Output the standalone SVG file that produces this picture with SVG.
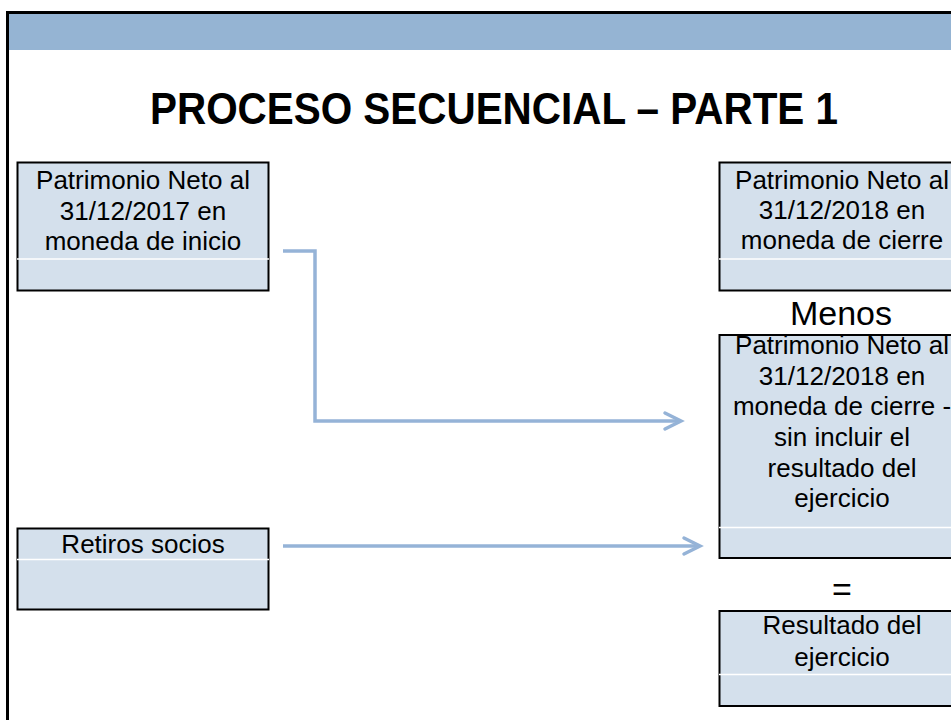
<svg xmlns="http://www.w3.org/2000/svg" width="951" height="720" viewBox="0 0 951 720">
<defs>
<style>
.box{fill:#D4E0EC;stroke:#000;stroke-width:2}
.sep{stroke:#fff;stroke-width:1.5}
.t{font-family:"Liberation Sans",Arial,sans-serif;font-size:26px;fill:#000;text-anchor:middle}
.big{font-family:"Liberation Sans",Arial,sans-serif;font-size:34px;fill:#000;text-anchor:middle}
.conn{fill:none;stroke:#95B3D7;stroke-width:3.5;stroke-linejoin:miter}
</style>
<marker id="arr" markerWidth="8" markerHeight="8" refX="6" refY="4" orient="auto" markerUnits="userSpaceOnUse" viewBox="0 0 8 8" overflow="visible">
<path d="M-10,-4 L6,4 L-10,12" fill="none" stroke="#95B3D7" stroke-width="3.5" stroke-linecap="round" stroke-linejoin="miter"/>
</marker>
</defs>
<rect x="0" y="0" width="951" height="720" fill="#fff"/>
<g id="frame">
<rect x="7.5" y="12.5" width="960" height="720" fill="none" stroke="#000" stroke-width="3"/>
<rect x="9" y="14" width="942" height="36" fill="#95B4D3"/>
</g>
<g id="title">
<text x="494" y="124" font-family="'Liberation Sans',Arial,sans-serif" font-size="44" font-weight="bold" text-anchor="middle" textLength="688" lengthAdjust="spacingAndGlyphs">PROCESO SECUENCIAL – PARTE 1</text>
</g>
<g id="connectors">
<path class="conn" d="M283,251 H315 V421 H681" marker-end="url(#arr)"/>
<path class="conn" d="M283,546 H700" marker-end="url(#arr)"/>
</g>
<g id="pn2017">
<rect class="box" x="17.5" y="162.5" width="251" height="128"/>
<line class="sep" x1="17" y1="259" x2="269" y2="259"/>
<text class="t" x="143" y="189">Patrimonio Neto al</text>
<text class="t" x="143" y="219.5">31/12/2017 en</text>
<text class="t" x="143" y="250">moneda de inicio</text>
</g>
<g id="pn2018">
<rect class="box" x="719.5" y="162.5" width="250" height="128"/>
<line class="sep" x1="719" y1="259" x2="951" y2="259"/>
<text class="t" x="842" y="188.5">Patrimonio Neto al</text>
<text class="t" x="842" y="218.5">31/12/2018 en</text>
<text class="t" x="842" y="249">moneda de cierre</text>
</g>
<g id="menos">
<text class="big" x="841" y="325">Menos</text>
</g>
<g id="pn2018sin">
<rect class="box" x="719.5" y="335" width="250" height="223"/>
<line class="sep" x1="719" y1="527.5" x2="951" y2="527.5"/>
<text class="t" x="842" y="354">Patrimonio Neto al</text>
<text class="t" x="842" y="384.5">31/12/2018 en</text>
<text class="t" x="842" y="415">moneda de cierre -</text>
<text class="t" x="842" y="446">sin incluir el</text>
<text class="t" x="842" y="476.5">resultado del</text>
<text class="t" x="842" y="507">ejercicio</text>
</g>
<g id="retiros">
<rect class="box" x="17.5" y="528.5" width="251" height="81"/>
<line class="sep" x1="17" y1="559.5" x2="269" y2="559.5"/>
<text class="t" x="143" y="552.5">Retiros socios</text>
</g>
<g id="igual">
<text class="big" x="842" y="601">=</text>
</g>
<g id="resultado">
<rect class="box" x="719.5" y="611" width="250" height="95"/>
<line class="sep" x1="719" y1="674.5" x2="951" y2="674.5"/>
<text class="t" x="842" y="634">Resultado del</text>
<text class="t" x="842" y="665.5">ejercicio</text>
</g>
</svg>
